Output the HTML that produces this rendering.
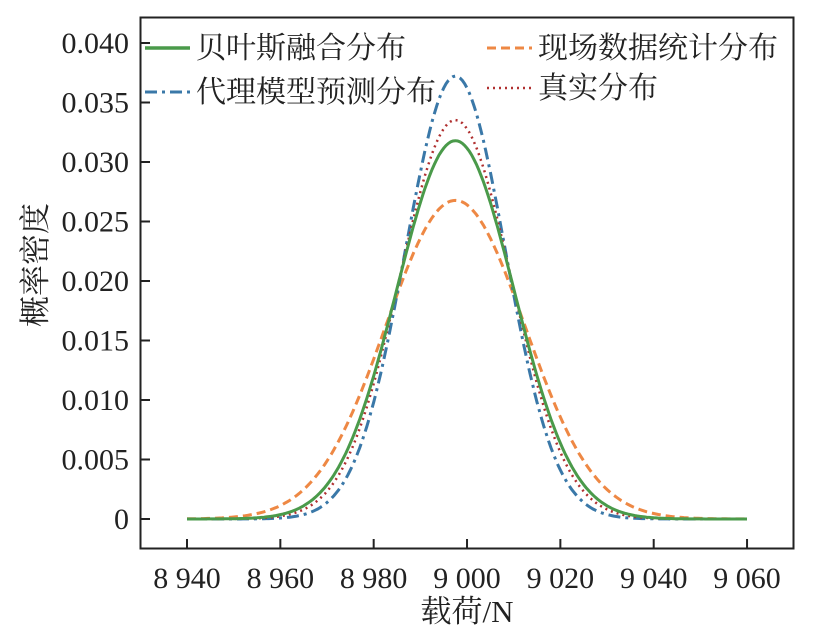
<!DOCTYPE html>
<html><head><meta charset="utf-8"><style>
body{margin:0;background:#fff;}
svg{display:block;font-family:"Liberation Serif","Noto Serif CJK SC",serif;}
</style></head><body>
<svg id="s" width="823" height="642" xmlns="http://www.w3.org/2000/svg">
<rect x="140.5" y="17.5" width="653" height="531" fill="none" stroke="#222" stroke-width="2"/>
<g id="ticks" stroke="#222" stroke-width="2"></g>
<g id="lab" font-size="30" fill="#222"></g>
<g id="curves" fill="none"></g>
<text x="467" y="622" font-size="31" text-anchor="middle" fill="#222">载荷/N</text>
<text transform="translate(46,265) rotate(-90)" font-size="31" text-anchor="middle" fill="#222">概率密度</text>
<g font-size="30" fill="#222">
<line x1="145" y1="48" x2="190" y2="48" stroke="#4a9a4a" stroke-width="3.5"/>
<text x="196" y="58">贝叶斯融合分布</text>
<line x1="145" y1="92" x2="190" y2="92" stroke="#3a78a8" stroke-width="3" stroke-dasharray="12,5,3,5"/>
<text x="196" y="102">代理模型预测分布</text>
<line x1="487" y1="48" x2="532" y2="48" stroke="#ee8844" stroke-width="3" stroke-dasharray="9,5"/>
<text x="538" y="58">现场数据统计分布</text>
<line x1="487" y1="88" x2="532" y2="88" stroke="#b03030" stroke-width="2.5" stroke-dasharray="2,4"/>
<text x="538" y="98">真实分布</text>
</g>
</svg>
<script>
var X=function(v){return 187+(v-8940)*4.667;},Y=function(p){return 519-p/0.005*59.5;};
var t=document.getElementById('ticks'),l=document.getElementById('lab'),h='',g='';
for(var i=0;i<=6;i++){var x=X(8940+20*i);h+='<line x1="'+x+'" y1="548" x2="'+x+'" y2="539"/>';
var v=8940+20*i;var s=(v<9000?'8 ':'9 ')+String(v%1000).padStart(3,'0');
g+='<text x="'+x+'" y="588" text-anchor="middle">'+s+'</text>';}
for(var j=0;j<=8;j++){var y=Y(j*0.005);h+='<line x1="141" y1="'+y+'" x2="150" y2="'+y+'"/>';
g+='<text x="129" y="'+(y+10)+'" text-anchor="end">'+(j==0?'0':(j*0.005).toFixed(3))+'</text>';}
t.innerHTML=h;l.innerHTML=g;
function path(mu,sig){var d='';for(var v=8940;v<=9060;v+=0.5){var p=Math.exp(-0.5*Math.pow((v-mu)/sig,2))/(sig*Math.sqrt(2*Math.PI));d+=(v==8940?'M':'L')+X(v).toFixed(1)+','+Y(p).toFixed(1);}return d;}
var c=[[8997.5,14.9,'#ee8844',3,'9,5'],[8997.5,10.72,'#3a78a8',3,'12,5,3,5'],[8997.5,11.9,'#b03030',2.5,'2,4'],[8997.5,12.55,'#4a9a4a',3,'']];
var o='';c.forEach(function(a){o+='<path d="'+path(a[0],a[1])+'" stroke="'+a[2]+'" stroke-width="'+a[3]+'"'+(a[4]?' stroke-dasharray="'+a[4]+'"':'')+'/>';});
document.getElementById('curves').innerHTML=o;
</script>
</body></html>
